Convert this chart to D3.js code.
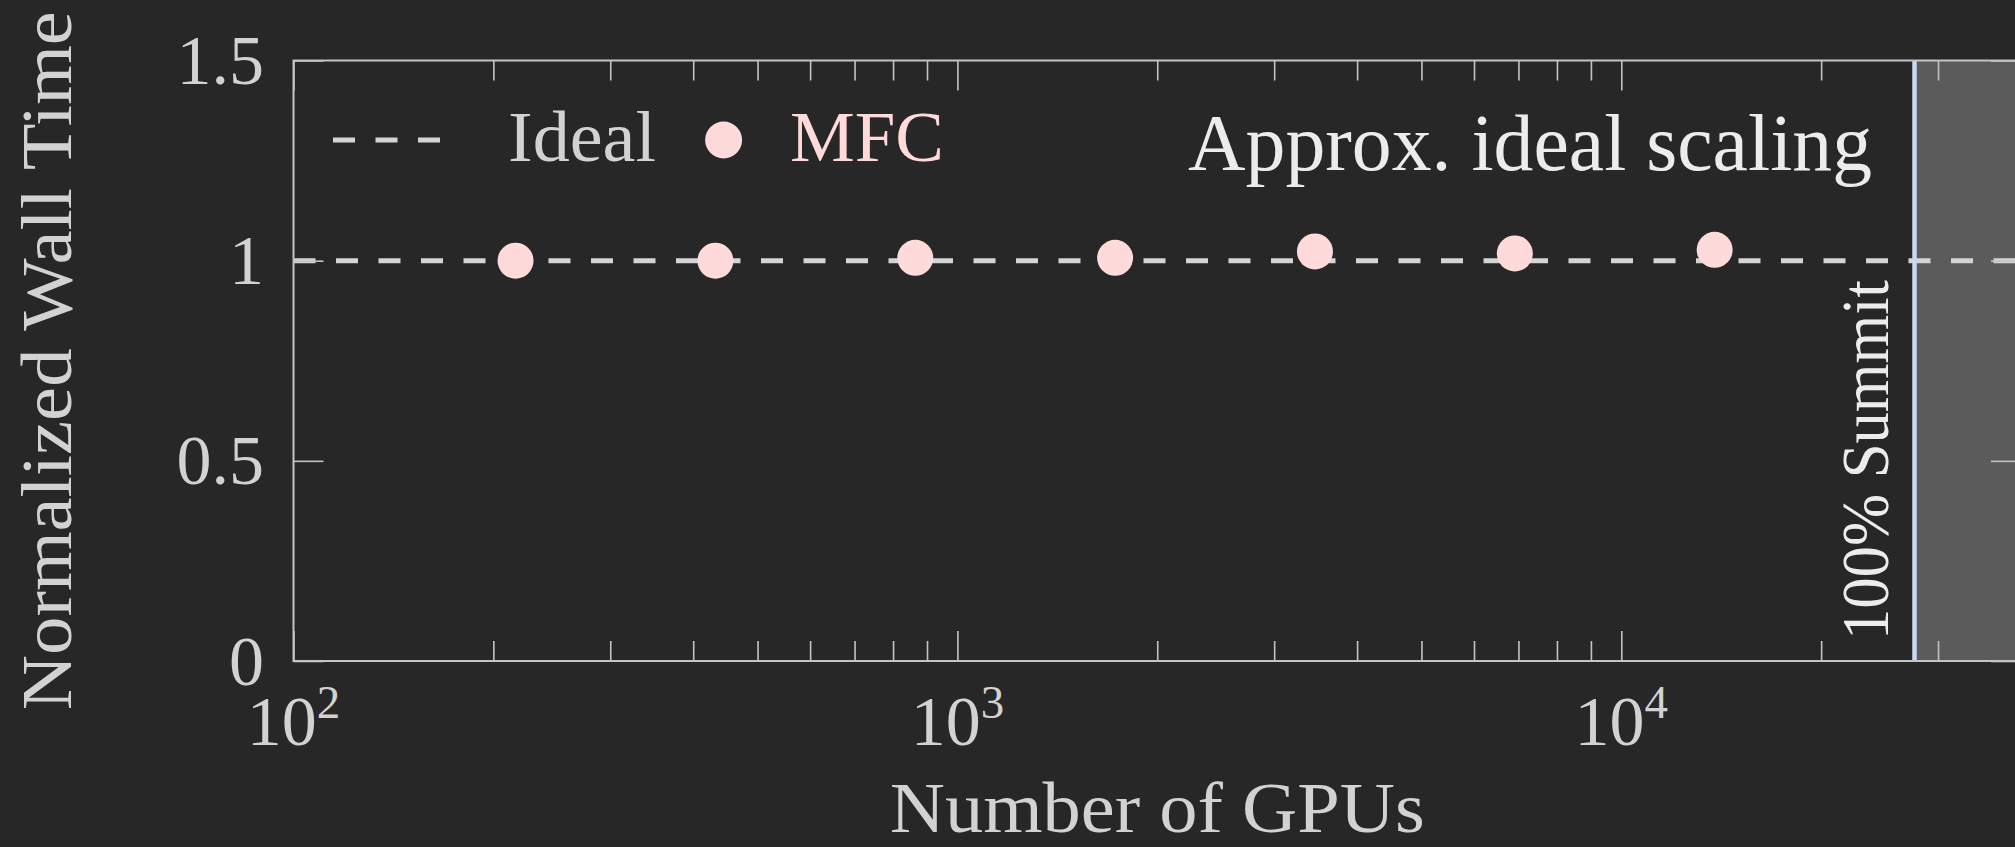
<!DOCTYPE html>
<html>
<head>
<meta charset="utf-8">
<script src="https://cdn.jsdelivr.net/npm/d3@7"></script>
<style>
  html, body { margin: 0; padding: 0; background: #272727; overflow: hidden; }
  svg { display: block; }
  text { font-family: "Liberation Serif", "DejaVu Serif", serif; }
</style>
</head>
<body>
<script>
// ---------- data ----------
const gpus = [216, 432, 864, 1728, 3456, 6912, 13824];
const wallTime = [1.000, 1.000, 1.007, 1.007, 1.023, 1.018, 1.027];
const idealValue = 1;
const summitGPUs = 27648;
const xDomain = [100, 40000];
const yDomain = [0, 1.5];
const xMajorTicks = [100, 1000, 10000];
const xMajorExponents = ["2", "3", "4"];
const xMinorTicks = [200, 300, 400, 500, 600, 700, 800, 900,
                     2000, 3000, 4000, 5000, 6000, 7000, 8000, 9000,
                     20000, 30000];
const yTicks = [0, 0.5, 1, 1.5];
const yTickLabels = ["0", "0.5", "1", "1.5"];
const xLabel = "Number of GPUs";
const yLabel = "Normalized Wall Time";
const legendLabels = ["Ideal", "MFC"];
const annotation = "Approx. ideal scaling";
const summitLabel = "100% Summit";

(function () {
// ---------- layout ----------
const W = 2015, H = 847;
const mLeft = 293.5, mRight = 2021, mTop = 60.5, mBottom = 661;
const bg = "#272727", fg = "#d2d2d2", spine = "#c4c4c4";
const pink = "#ffdada", summitBlue = "#c9d9f3", shade = "#5b5b5b";

const svg = d3.select("body").append("svg").attr("width", W).attr("height", H);
svg.append("rect").attr("width", W).attr("height", H).attr("fill", bg);

const x = d3.scaleLog().domain(xDomain).range([mLeft, mRight]);
const y = d3.scaleLinear().domain(yDomain).range([mBottom, mTop]);

// shaded region beyond Summit
svg.append("rect")
  .attr("x", x(summitGPUs)).attr("y", y(yDomain[1]))
  .attr("width", x(xDomain[1]) - x(summitGPUs))
  .attr("height", y(yDomain[0]) - y(yDomain[1]))
  .attr("fill", shade);

// ideal line
svg.append("line")
  .attr("x1", x(xDomain[0])).attr("x2", x(xDomain[1]))
  .attr("y1", y(idealValue)).attr("y2", y(idealValue))
  .attr("stroke", "#d4d4d4").attr("stroke-width", 5)
  .attr("stroke-dasharray", "22,20.5");

// summit line
svg.append("line")
  .attr("x1", x(summitGPUs)).attr("x2", x(summitGPUs))
  .attr("y1", y(yDomain[0])).attr("y2", y(yDomain[1]))
  .attr("stroke", summitBlue).attr("stroke-width", 4.5);

// axes ticks (inward)
function styleAxis(g) {
  g.select(".domain").remove();
  g.selectAll(".tick line").attr("stroke", spine).attr("stroke-width", 1.6);
  g.selectAll(".tick text").remove();
}
svg.append("g").attr("transform", `translate(0,${mBottom})`)
  .call(d3.axisBottom(x).tickValues(xMajorTicks).tickSize(-30).tickFormat("")).call(styleAxis);
svg.append("g").attr("transform", `translate(0,${mBottom})`)
  .call(d3.axisBottom(x).tickValues(xMinorTicks).tickSize(-20).tickFormat("")).call(styleAxis);
svg.append("g").attr("transform", `translate(0,${mTop})`)
  .call(d3.axisTop(x).tickValues(xMajorTicks).tickSize(-30).tickFormat("")).call(styleAxis);
svg.append("g").attr("transform", `translate(0,${mTop})`)
  .call(d3.axisTop(x).tickValues(xMinorTicks).tickSize(-20).tickFormat("")).call(styleAxis);
svg.append("g").attr("transform", `translate(${mLeft},0)`)
  .call(d3.axisLeft(y).tickValues(yTicks).tickSize(-30).tickFormat("")).call(styleAxis);
svg.append("g").attr("transform", `translate(${mRight},0)`)
  .call(d3.axisRight(y).tickValues(yTicks).tickSize(-30).tickFormat("")).call(styleAxis);

// spines
svg.append("rect")
  .attr("x", mLeft).attr("y", mTop).attr("width", mRight - mLeft).attr("height", mBottom - mTop)
  .attr("fill", "none").attr("stroke", spine).attr("stroke-width", 2);

// data markers
svg.append("g").selectAll("circle").data(gpus).join("circle")
  .attr("cx", d => x(d)).attr("cy", (d, i) => y(wallTime[i]))
  .attr("r", 18).attr("fill", pink);

// y tick labels
svg.append("g").selectAll("text").data(yTicks).join("text")
  .attr("x", 264).attr("y", d => y(d) + 23.5)
  .attr("text-anchor", "end").attr("font-size", 70).attr("fill", fg)
  .text((d, i) => yTickLabels[i]);

// x tick labels 10^n
const xl = svg.append("g").selectAll("text").data(xMajorTicks).join("text")
  .attr("x", d => x(d)).attr("y", 745)
  .attr("text-anchor", "middle").attr("font-size", 70).attr("fill", fg);
xl.append("tspan").text("10");
xl.append("tspan").attr("font-size", 47).attr("dy", -27).text((d, i) => xMajorExponents[i]);

// axis labels
svg.append("text")
  .attr("x", (mLeft + mRight) / 2).attr("y", 832)
  .attr("text-anchor", "middle").attr("font-size", 72).attr("fill", fg)
  .attr("textLength", 535).attr("lengthAdjust", "spacingAndGlyphs")
  .text(xLabel);
svg.append("text")
  .attr("transform", `translate(71,${(mTop + mBottom) / 2}) rotate(-90)`)
  .attr("text-anchor", "middle").attr("font-size", 72).attr("fill", fg)
  .attr("textLength", 699).attr("lengthAdjust", "spacingAndGlyphs")
  .text(yLabel);

// legend
svg.append("line")
  .attr("x1", 333).attr("x2", 440).attr("y1", 140).attr("y2", 140)
  .attr("stroke", "#d4d4d4").attr("stroke-width", 5).attr("stroke-dasharray", "22,20.5");
svg.append("text").attr("x", 508).attr("y", 161)
  .attr("font-size", 72).attr("fill", fg)
  .attr("textLength", 148).attr("lengthAdjust", "spacingAndGlyphs")
  .text(legendLabels[0]);
svg.append("circle").attr("cx", 723.6).attr("cy", 140).attr("r", 18.5).attr("fill", pink);
svg.append("text").attr("x", 790).attr("y", 161)
  .attr("font-size", 72).attr("fill", pink)
  .attr("textLength", 154).attr("lengthAdjust", "spacingAndGlyphs")
  .text(legendLabels[1]);

// annotation
svg.append("text").attr("x", 1872).attr("y", 170)
  .attr("text-anchor", "end").attr("font-size", 80).attr("fill", "#ececec")
  .attr("textLength", 684).attr("lengthAdjust", "spacingAndGlyphs")
  .text(annotation);

// summit label
svg.append("text")
  .attr("transform", `translate(1888,640) rotate(-90)`)
  .attr("font-size", 68).attr("fill", "#ececec")
  .attr("textLength", 360).attr("lengthAdjust", "spacingAndGlyphs")
  .text(summitLabel);
})();
</script>
</body>
</html>
